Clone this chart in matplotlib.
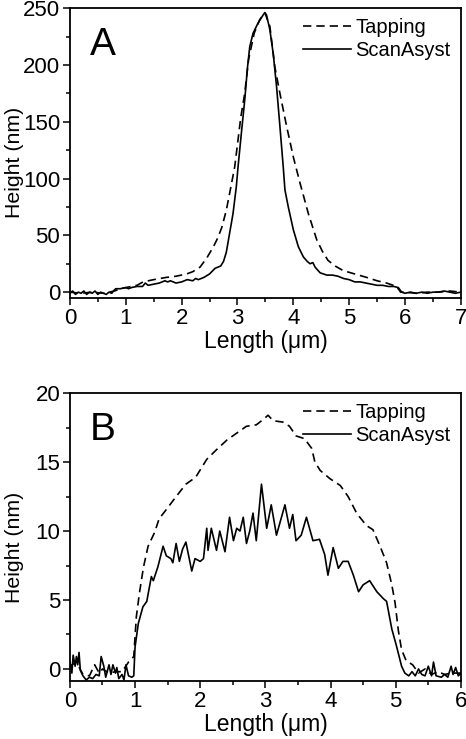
import numpy as np
import matplotlib
matplotlib.use("Agg")
import matplotlib.pyplot as plt
from matplotlib.ticker import MultipleLocator

plt.rcParams['font.family'] = ['Liberation Sans', 'DejaVu Sans']

# panel A: ScanAsyst (solid)
a_scan_x = [0.00, 0.05, 0.10, 0.15, 0.20, 0.25, 0.30, 0.35, 0.40, 0.45, 0.50, 0.55, 0.60, 0.65,
            0.70, 0.75, 0.78, 0.82, 0.90, 1.00, 1.05, 1.10, 1.20, 1.30, 1.35, 1.40, 1.50, 1.60,
            1.70, 1.75, 1.80, 1.90, 2.00, 2.05, 2.10, 2.20, 2.25, 2.30, 2.40, 2.50, 2.60, 2.70,
            2.75, 2.80, 2.86, 2.92, 2.98, 3.01, 3.07, 3.13, 3.18, 3.22, 3.28, 3.37, 3.46, 3.49,
            3.52, 3.58, 3.64, 3.70, 3.76, 3.82, 3.85, 3.91, 4.00, 4.09, 4.18, 4.25, 4.30, 4.35,
            4.39, 4.48, 4.60, 4.70, 4.80, 4.90, 5.00, 5.10, 5.20, 5.30, 5.40, 5.50, 5.60, 5.70,
            5.80, 5.88, 5.94, 6.00, 6.10, 6.20, 6.30, 6.40, 6.50, 6.60, 6.70, 6.80, 6.90, 7.00]
a_scan_h = [-1, 1, -2, 0, -1, 1, -2, 0, -1, 1, -2, 0, -1, -2,
            0, -1, 1, 3, 3, 4, 3, 4, 5, 5, 8, 6, 7, 8,
            10, 9, 10, 8, 9, 10, 11, 10, 12, 11, 13, 16, 21, 23,
            27, 35, 52, 69, 93, 110, 140, 169, 198, 216, 228, 237, 244, 246,
            244, 231, 210, 181, 146, 110, 90, 75, 55, 40, 31, 27, 25, 26,
            22, 17, 15, 15, 14, 12, 11, 9, 9, 8, 7, 6, 6, 5,
            5, 4, 0, -1, 0, -1, 0, -1, 0, 0, 1, 0, -1, 0]

# panel A: Tapping (dashed)
a_tap_x = [0.0, 0.2, 0.4, 0.6, 0.8, 0.9, 1.0, 1.1, 1.2, 1.31, 1.5, 1.73, 1.9, 2.09, 2.2, 2.33,
           2.45, 2.57, 2.65, 2.72, 2.80, 2.86, 2.95, 3.01, 3.06, 3.13, 3.20, 3.30, 3.40, 3.49,
           3.58, 3.67, 3.76, 3.88, 4.00, 4.12, 4.27, 4.42, 4.52, 4.62, 4.75, 4.89, 5.10, 5.31,
           5.50, 5.67, 5.85, 5.92, 6.0, 6.2, 6.4, 6.6, 6.8, 7.0]
a_tap_h = [0, -1, 0, -1, 1, 3, 4, 5, 6, 9, 11, 13, 14, 16, 18, 22,
           30, 40, 48, 57, 72, 87, 110, 134, 154, 175, 205, 228, 240, 246,
           234, 198, 175, 146, 119, 96, 69, 46, 36, 28, 23, 19, 16, 13,
           10, 8, 5, 0, 0, -1, 0, 0, 1, 0]

# panel B: ScanAsyst (solid)
b_scan_x = [0.00, 0.03, 0.05, 0.08, 0.10, 0.12, 0.14, 0.16, 0.20, 0.25, 0.30, 0.35, 0.40, 0.45,
            0.48, 0.52, 0.55, 0.60, 0.63, 0.66, 0.70, 0.72, 0.75, 0.80, 0.83, 0.86, 0.90, 0.95,
            0.98, 1.00, 1.05, 1.12, 1.18, 1.25, 1.28, 1.35, 1.43, 1.48, 1.55, 1.58, 1.63, 1.68,
            1.73, 1.78, 1.87, 1.92, 2.00, 2.05, 2.10, 2.12, 2.17, 2.25, 2.30, 2.38, 2.45, 2.51,
            2.56, 2.61, 2.66, 2.71, 2.76, 2.81, 2.86, 2.94, 3.02, 3.09, 3.17, 3.30, 3.37, 3.42,
            3.47, 3.55, 3.63, 3.73, 3.83, 3.91, 3.96, 4.04, 4.12, 4.19, 4.27, 4.35, 4.43, 4.50,
            4.60, 4.71, 4.81, 4.86, 4.94, 5.01, 5.09, 5.14, 5.20, 5.25, 5.30, 5.35, 5.40, 5.45,
            5.50, 5.55, 5.58, 5.62, 5.70, 5.75, 5.80, 5.85, 5.88, 5.92, 5.96, 6.00]
b_scan_h = [0.5, -0.3, 1.0, 0.2, 0.9, 0.3, 1.2, -0.1, -0.5, -0.8, -0.6, -0.7, -0.4, -0.5,
            0.9, 0.2, -0.6, 0.3, -0.4, 0.3, -0.3, 0.1, -0.7, -0.4, -0.8, 0.3, -0.5, -0.6,
            -0.5, 1.6, 3.3, 4.5, 4.9, 6.7, 6.4, 7.4, 8.9, 8.2, 8.0, 7.7, 9.1, 7.8,
            8.7, 9.2, 7.1, 8.0, 7.8, 8.0, 10.2, 8.6, 10.2, 8.6, 10.0, 8.5, 11.0, 9.3,
            10.2, 10.0, 11.0, 9.1, 10.0, 11.3, 9.3, 13.4, 10.2, 11.9, 9.7, 11.9, 10.2, 11.2,
            9.3, 9.7, 11.0, 9.3, 9.4, 8.3, 6.8, 8.8, 7.3, 7.8, 7.8, 6.8, 5.6, 6.1,
            6.4, 5.6, 5.1, 4.9, 2.9, 1.7, 0.2, -0.3, -0.5, -0.2, -0.5, 0.0, -0.4, -0.5,
            0.2, -0.5, 0.5, -0.5, -0.6, -0.4, -0.6, 0.2, -0.4, 0.1, -0.5, -0.3]

# panel B: Tapping (dashed)
b_tap_x = [0.0, 0.1, 0.2, 0.3, 0.38, 0.45, 0.5, 0.6, 0.7, 0.8, 0.9, 0.98, 1.02, 1.07, 1.13,
           1.20, 1.30, 1.37, 1.47, 1.63, 1.78, 1.93, 2.10, 2.25, 2.41, 2.56, 2.71, 2.86, 2.97,
           3.04, 3.12, 3.27, 3.37, 3.47, 3.60, 3.71, 3.76, 3.84, 3.99, 4.15, 4.27, 4.40, 4.55,
           4.65, 4.76, 4.86, 4.94, 4.99, 5.04, 5.09, 5.16, 5.26, 5.35, 5.45, 5.55, 5.65, 5.75,
           5.85, 6.0]
b_tap_h = [0.2, 0.5, -0.4, -0.5, 0.3, -0.3, 0.0, -0.3, -0.2, -0.2, 0.5, 0.9, 3.8, 5.6, 7.4,
           8.9, 9.9, 10.9, 11.5, 12.5, 13.4, 13.9, 15.2, 15.9, 16.6, 17.1, 17.6, 17.7, 18.1,
           18.4, 18.0, 17.9, 17.6, 16.9, 16.7, 16.0, 15.0, 14.4, 13.8, 13.3, 12.5, 11.3, 10.4,
           10.1, 8.9, 7.7, 6.1, 4.8, 2.8, 1.4, 0.6, 0.3, -0.3, 0.0, -0.4, -0.2, -0.4,
           -0.3, -0.3]

fig = plt.figure(figsize=(4.66, 7.39), dpi=100)
axA = fig.add_axes([0.150, 0.597, 0.839, 0.392])
axB = fig.add_axes([0.150, 0.078, 0.839, 0.390])


def style(ax, letter):
    for s in ax.spines.values():
        s.set_linewidth(1.3)
    ax.tick_params(which='both', direction='out', top=False, right=False,
                   labelsize=16, width=1.1, pad=2)
    ax.tick_params(which='major', length=5)
    ax.tick_params(which='minor', length=3)
    ax.set_xlabel('Length (μm)', fontsize=16.5, labelpad=1)
    ax.set_ylabel('Height (nm)', fontsize=15.3)
    ax.yaxis.set_label_coords(-0.1164, 0.466)
    ax.text(0.05, 0.873, letter, transform=ax.transAxes, fontsize=28,
            va='center', ha='left')
    ax.legend(loc='upper right', frameon=False, fontsize=14.5, handlelength=2.35,
              handletextpad=0.25, labelspacing=0.2, borderaxespad=0.1)


axA.plot(a_tap_x, a_tap_h, color='black', lw=1.2, dashes=(5, 3), label='Tapping')
axA.plot(a_scan_x, a_scan_h, color='black', lw=1.2, label='ScanAsyst')
axA.set_xlim(0, 7)
axA.set_ylim(-5, 250)
axA.xaxis.set_major_locator(MultipleLocator(1))
axA.xaxis.set_minor_locator(MultipleLocator(0.5))
axA.yaxis.set_major_locator(MultipleLocator(50))
axA.yaxis.set_minor_locator(MultipleLocator(25))
style(axA, 'A')

axB.plot(b_tap_x, b_tap_h, color='black', lw=1.2, dashes=(5, 3), label='Tapping')
axB.plot(b_scan_x, b_scan_h, color='black', lw=1.2, label='ScanAsyst')
axB.set_xlim(0, 6)
axB.set_ylim(-0.9, 20)
axB.xaxis.set_major_locator(MultipleLocator(1))
axB.xaxis.set_minor_locator(MultipleLocator(0.5))
axB.yaxis.set_major_locator(MultipleLocator(5))
axB.yaxis.set_minor_locator(MultipleLocator(2.5))
style(axB, 'B')

fig.savefig('out.png', dpi=100)
